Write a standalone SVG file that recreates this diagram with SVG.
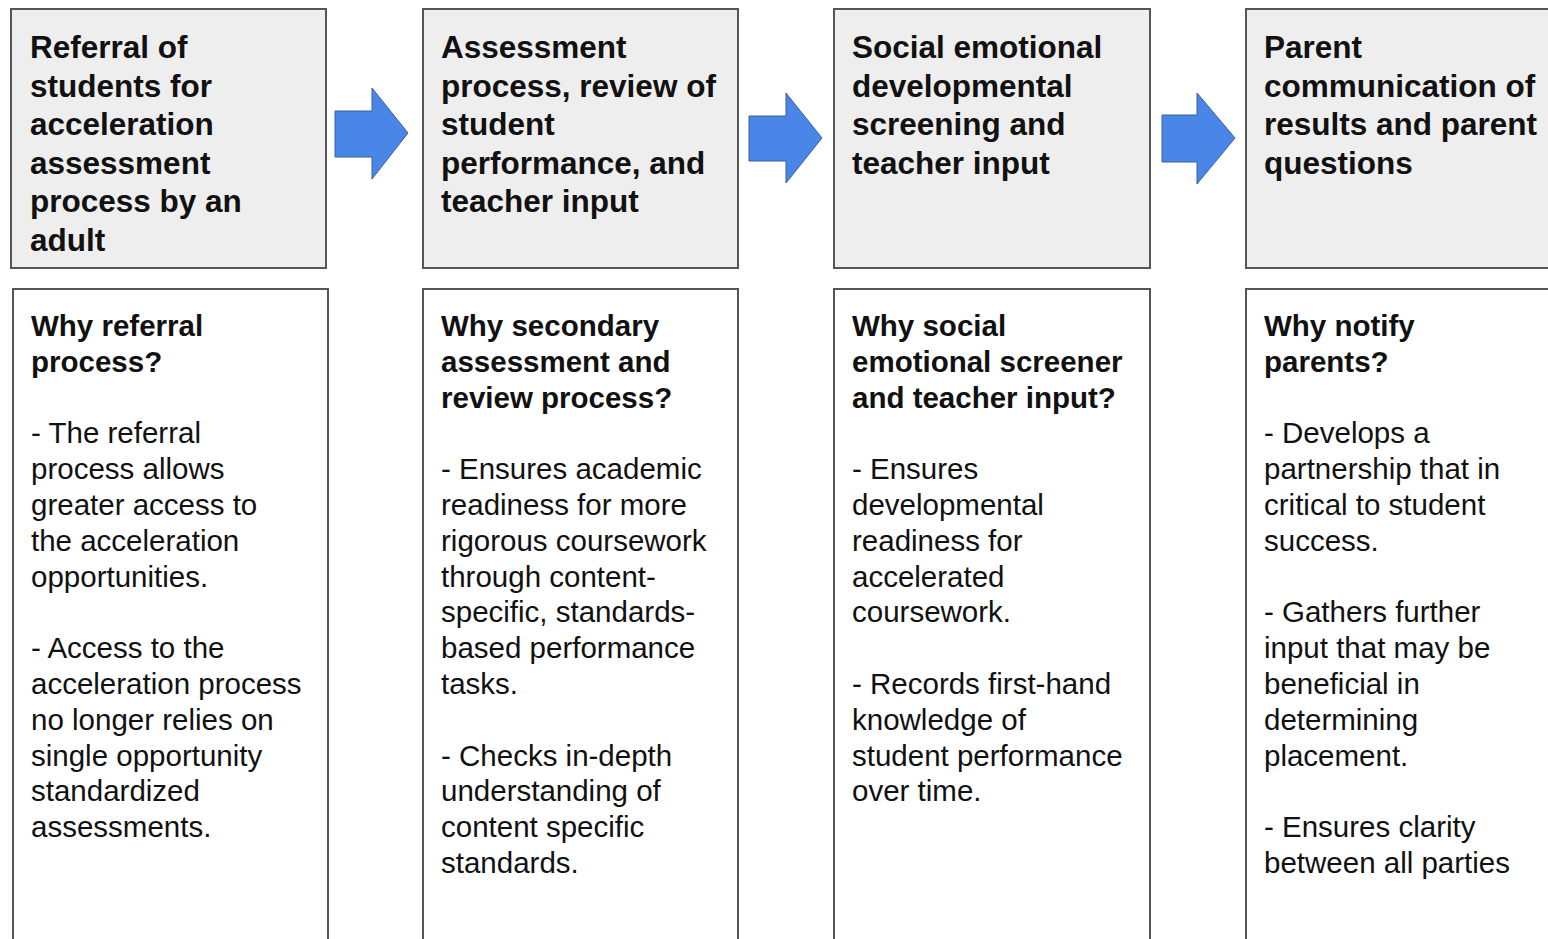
<svg xmlns="http://www.w3.org/2000/svg" width="1548" height="939" viewBox="0 0 1548 939">
<style>
.hd{fill:#eeeeee;stroke:#555555;stroke-width:2}
.bd{fill:#ffffff;stroke:#555555;stroke-width:2}
.ht{font-family:"Liberation Sans",Arial,sans-serif;font-weight:bold;font-size:31.5px;fill:#111}
.bt{font-family:"Liberation Sans",Arial,sans-serif;font-size:29.5px;fill:#111}
.bb{font-weight:bold}
.arr{fill:#4a86e8;stroke:#3a5f9e;stroke-width:1}
</style>
<rect width="1548" height="939" fill="#ffffff"/>
<g id="step1">
<rect class="hd" x="11" y="9" width="315" height="259"/>
<text class="ht" x="30" y="58"><tspan x="30">Referral of</tspan><tspan x="30" dy="38.6">students for</tspan><tspan x="30" dy="38.6">acceleration</tspan><tspan x="30" dy="38.6">assessment</tspan><tspan x="30" dy="38.6">process by an</tspan><tspan x="30" dy="38.6">adult</tspan></text>
</g>
<g id="why1">
<rect class="bd" x="13" y="289" width="315" height="670"/>
<text class="bt" x="31" y="336"><tspan class="bb" x="31">Why referral</tspan><tspan class="bb" x="31" dy="35.8">process?</tspan><tspan x="31" dy="71.6">- The referral</tspan><tspan x="31" dy="35.8">process allows</tspan><tspan x="31" dy="35.8">greater access to</tspan><tspan x="31" dy="35.8">the acceleration</tspan><tspan x="31" dy="35.8">opportunities.</tspan><tspan x="31" dy="71.6">- Access to the</tspan><tspan x="31" dy="35.8">acceleration process</tspan><tspan x="31" dy="35.8">no longer relies on</tspan><tspan x="31" dy="35.8">single opportunity</tspan><tspan x="31" dy="35.8">standardized</tspan><tspan x="31" dy="35.8">assessments.</tspan></text>
</g>
<g id="step2">
<rect class="hd" x="423" y="9" width="315" height="259"/>
<text class="ht" x="441" y="58"><tspan x="441">Assessment</tspan><tspan x="441" dy="38.6">process, review of</tspan><tspan x="441" dy="38.6">student</tspan><tspan x="441" dy="38.6">performance, and</tspan><tspan x="441" dy="38.6">teacher input</tspan></text>
</g>
<g id="why2">
<rect class="bd" x="423" y="289" width="315" height="670"/>
<text class="bt" x="441" y="336"><tspan class="bb" x="441">Why secondary</tspan><tspan class="bb" x="441" dy="35.8">assessment and</tspan><tspan class="bb" x="441" dy="35.8">review process?</tspan><tspan x="441" dy="71.6">- Ensures academic</tspan><tspan x="441" dy="35.8">readiness for more</tspan><tspan x="441" dy="35.8">rigorous coursework</tspan><tspan x="441" dy="35.8">through content-</tspan><tspan x="441" dy="35.8">specific, standards-</tspan><tspan x="441" dy="35.8">based performance</tspan><tspan x="441" dy="35.8">tasks.</tspan><tspan x="441" dy="71.6">- Checks in-depth</tspan><tspan x="441" dy="35.8">understanding of</tspan><tspan x="441" dy="35.8">content specific</tspan><tspan x="441" dy="35.8">standards.</tspan></text>
</g>
<g id="step3">
<rect class="hd" x="834" y="9" width="316" height="259"/>
<text class="ht" x="852" y="58"><tspan x="852">Social emotional</tspan><tspan x="852" dy="38.6">developmental</tspan><tspan x="852" dy="38.6">screening and</tspan><tspan x="852" dy="38.6">teacher input</tspan></text>
</g>
<g id="why3">
<rect class="bd" x="834" y="289" width="316" height="670"/>
<text class="bt" x="852" y="336"><tspan class="bb" x="852">Why social</tspan><tspan class="bb" x="852" dy="35.8">emotional screener</tspan><tspan class="bb" x="852" dy="35.8">and teacher input?</tspan><tspan x="852" dy="71.6">- Ensures</tspan><tspan x="852" dy="35.8">developmental</tspan><tspan x="852" dy="35.8">readiness for</tspan><tspan x="852" dy="35.8">accelerated</tspan><tspan x="852" dy="35.8">coursework.</tspan><tspan x="852" dy="71.6">- Records first-hand</tspan><tspan x="852" dy="35.8">knowledge of</tspan><tspan x="852" dy="35.8">student performance</tspan><tspan x="852" dy="35.8">over time.</tspan></text>
</g>
<g id="step4">
<rect class="hd" x="1246" y="9" width="320" height="259"/>
<text class="ht" x="1264" y="58"><tspan x="1264">Parent</tspan><tspan x="1264" dy="38.6">communication of</tspan><tspan x="1264" dy="38.6">results and parent</tspan><tspan x="1264" dy="38.6">questions</tspan></text>
</g>
<g id="why4">
<rect class="bd" x="1246" y="289" width="320" height="670"/>
<text class="bt" x="1264" y="336"><tspan class="bb" x="1264">Why notify</tspan><tspan class="bb" x="1264" dy="35.8">parents?</tspan><tspan x="1264" dy="71.6">- Develops a</tspan><tspan x="1264" dy="35.8">partnership that in</tspan><tspan x="1264" dy="35.8">critical to student</tspan><tspan x="1264" dy="35.8">success.</tspan><tspan x="1264" dy="71.6">- Gathers further</tspan><tspan x="1264" dy="35.8">input that may be</tspan><tspan x="1264" dy="35.8">beneficial in</tspan><tspan x="1264" dy="35.8">determining</tspan><tspan x="1264" dy="35.8">placement.</tspan><tspan x="1264" dy="71.6">- Ensures clarity</tspan><tspan x="1264" dy="35.8">between all parties</tspan></text>
</g>
<g id="connectors">
<polygon class="arr" points="335,111 372,111 372,88 408,133 372,179 372,157 335,157"/>
<polygon class="arr" points="749,116 786,116 786,93 822,138 786,183 786,161 749,161"/>
<polygon class="arr" points="1162,115 1197,115 1197,93 1235,138 1197,184 1197,162 1162,162"/>
</g>
</svg>
